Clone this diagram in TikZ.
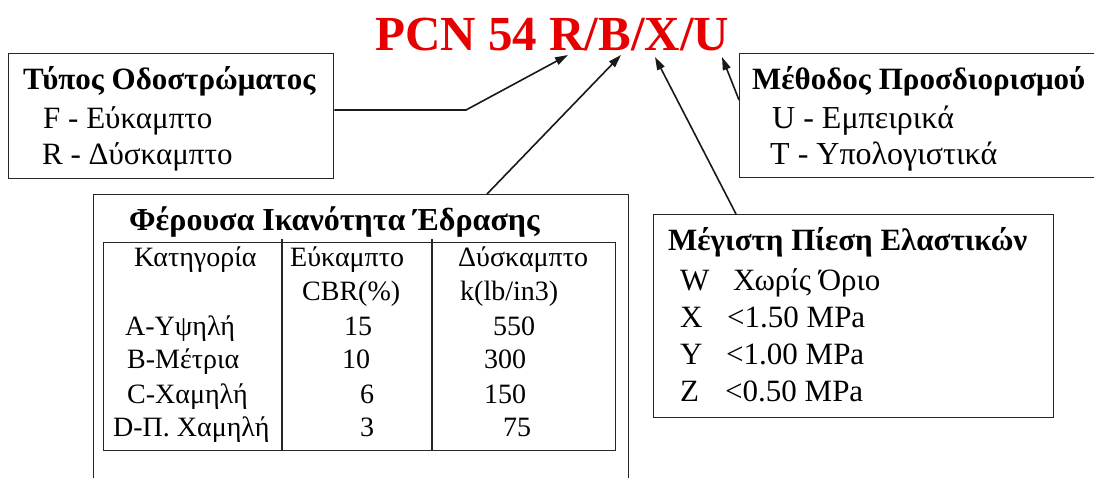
\documentclass[tikz,border=0pt]{standalone}
\usepackage{fontspec}
\setmainfont{Liberation Serif}
\usetikzlibrary{arrows.meta}
\definecolor{pcnred}{RGB}{232,0,0}
\begin{document}
\begin{tikzpicture}[x=1pt,y=-1pt,
  bx/.style={draw=black!85, line width=1.4pt, inner sep=0pt},
  ttl/.style={anchor=base west, inner sep=0pt, font=\fontsize{31}{32}\selectfont\bfseries},
  txt/.style={anchor=base west, inner sep=0pt, font=\fontsize{31}{32}\selectfont},
  tbt/.style={anchor=base west, inner sep=0pt, font=\fontsize{28}{30}\selectfont},
  arr/.style={draw=black!90, line width=1.6pt, -{Triangle[length=13pt,width=8pt]}}]
\useasboundingbox (0,0) rectangle (1094,478);
\clip (0,0) rectangle (1094,478);
\fill[white] (0,0) rectangle (1094,478);

% title
\node[anchor=base west, inner sep=0pt, text=pcnred, font=\fontsize{49}{50}\selectfont\bfseries] (pcn) at (375,51) {PCN 54 R/B/X/U};
\coordinate (tipR) at (568,55);
\coordinate (tipB) at (621,55);
\coordinate (tipX) at (655,57);
\coordinate (tipU) at (722,57);

% box 1
\node[bx, anchor=north west, minimum width=325pt, minimum height=125pt] (box1) at (8,53) {};
\node[ttl] (t1) at (23,90) {Τύπος Οδοστρώματος};
\node[txt] (t1a) at (43,129) {F - Εύκαμπτο};
\node[txt] (t1b) at (42,165) {R - Δύσκαμπτο};

% box 3
\node[bx, anchor=north west, minimum width=400pt, minimum height=124pt] (box3) at (739,53) {};
\node[ttl] (t3) at (752,90) {Μέθοδος Προσδιορισμού};
\node[txt, font=\fontsize{32}{32}\selectfont] (t3a) at (772,129) {U - Εμπειρικά};
\node[txt, font=\fontsize{32}{32}\selectfont] (t3b) at (770,165) {T - Υπολογιστικά};

% table box
\node[bx, anchor=north west, minimum width=535pt, minimum height=320pt] (tbl) at (93,194) {};
\node[ttl, font=\fontsize{32}{32}\selectfont\bfseries] (t2) at (129,231) {Φέρουσα Ικανότητα Έδρασης};
\node[bx, anchor=north west, minimum width=512pt, minimum height=208pt] (inner) at (103,242) {};
\draw[bx] (282,239) -- (282,450);
\draw[bx] (432,239) -- (432,450);
\node[tbt] (h1) at (134,266) {Κατηγορία};
\node[tbt] (h2) at (290,266) {Εύκαμπτο};
\node[tbt] (h3) at (458,266) {Δύσκαμπτο};
\node[tbt] (h2b) at (302,300) {CBR(\%)};
\node[tbt] (h3b) at (460,300) {k(lb/in3)};
\node[tbt] (ra) at (125,335) {A-Υψηλή};
\node[tbt] (rb) at (127,368) {B-Μέτρια};
\node[tbt] (rc) at (127,403) {C-Χαμηλή};
\node[tbt] (rd) at (113,436) {D-Π. Χαμηλή};
\node[tbt] (fa) at (344,335) {15};
\node[tbt] (fb) at (342,368) {10};
\node[tbt] (fc) at (360,403) {6};
\node[tbt] (fd) at (360,436) {3};
\node[tbt] (ka) at (493,335) {550};
\node[tbt] (kb) at (484,368) {300};
\node[tbt] (kc) at (484,403) {150};
\node[tbt] (kd) at (503,436) {75};

% box 4
\node[bx, anchor=north west, minimum width=400pt, minimum height=203pt] (box4) at (653,214) {};
\node[ttl] (t4) at (668,251) {Μέγιστη Πίεση Ελαστικών};
\node[txt] (w1) at (680,290) {W};
\node[txt] (w2) at (733,290) {Χωρίς Όριο};
\node[txt] (x1) at (680,327) {X};
\node[txt] (x2) at (727,327) {<1.50 MPa};
\node[txt] (y1) at (680,364) {Y};
\node[txt] (y2) at (726,364) {<1.00 MPa};
\node[txt] (z1) at (680,401) {Z};
\node[txt] (z2) at (725,401) {<0.50 MPa};

% connectors
\coordinate (c1) at (466,110);
\coordinate (tblTop) at (487,194);
\coordinate (box4Top) at (736,214);
\coordinate (box3Left) at (739,100);
\draw[arr] (box1.east |- c1) -- (c1) -- (tipR);
\draw[arr] (tblTop) -- (tipB);
\draw[arr] (box4Top) -- (tipX);
\draw[arr] (box3Left) -- (tipU);
\end{tikzpicture}
\end{document}
